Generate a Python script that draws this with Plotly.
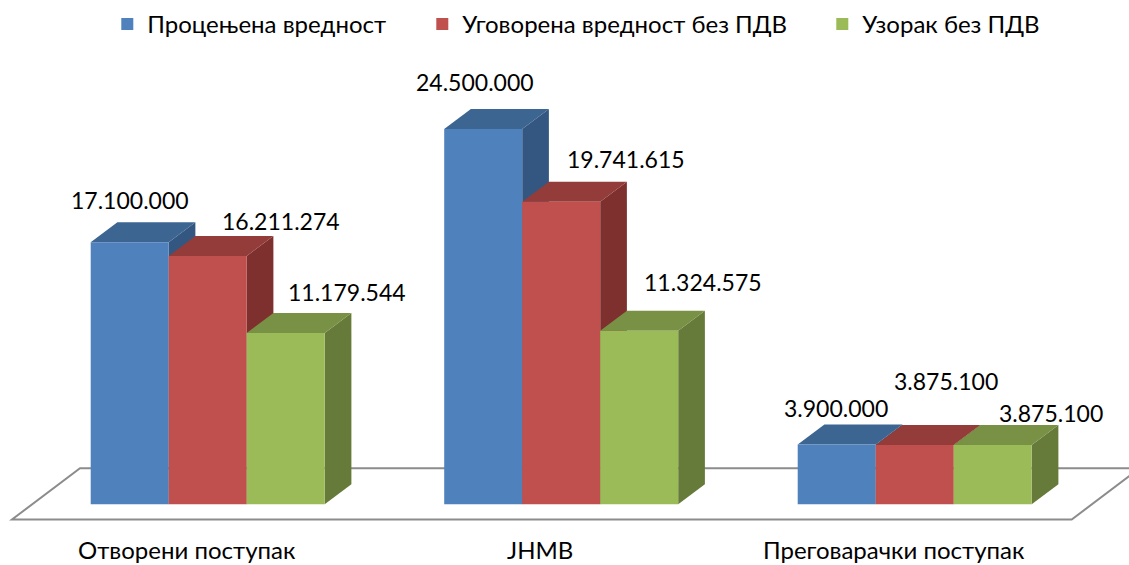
import plotly.graph_objects as go

# ---------------- data ----------------
categories = ["Отворени поступак", "JHMB", "Преговарачки поступак"]
series_names = ["Процењена вредност", "Уговорена вредност без ПДВ", "Узорак без ПДВ"]
procenjena = [17100000, 24500000, 3900000]
ugovorena = [16211274, 19741615, 3875100]
uzorak = [11179544, 11324575, 3875100]
series_values = [procenjena, ugovorena, uzorak]

# ---------------- style ----------------
W, H = 1129, 565
FONT = "Lato"
front_colors = ["#4F81BD", "#C0504D", "#9BBB59"]
top_colors = ["#3D6591", "#933C3A", "#789145"]
side_colors = ["#345781", "#7D302E", "#667B3A"]
floor_color = "#8C8C8C"

# pixel geometry of the plot (used only to set the axis scales)
GROUP_PX0 = 207.7      # pixel x of first category centre
GROUP_STEP = 353.5     # pixels per category
BASE_PX = 504.3        # pixel y of value 0
PX_PER_UNIT = 15.32e-6 # pixels per value unit
BAR_PX = 78.0
DEPTH_X_PX = 26.7
DEPTH_Y_PX = 20.0

x_range = [-GROUP_PX0 / GROUP_STEP, (W - GROUP_PX0) / GROUP_STEP]
y_range = [(BASE_PX - H) / PX_PER_UNIT, BASE_PX / PX_PER_UNIT]
BW = BAR_PX / GROUP_STEP
DX = DEPTH_X_PX / GROUP_STEP
DY = DEPTH_Y_PX / PX_PER_UNIT
offsets = [-BW, 0.0, BW]

# data-label pixel offsets (dx, dy) relative to the front-top centre of each bar
label_offsets = [
    [(0, 42), (-8, 47), (-1, 37)],
    [(73, 35), (65, 43), (31, 64)],
    [(61, 41), (64, 49), (58, 32)],
]
legend_text_x = [147.3, 462.3, 862.3]

fig = go.Figure()
shapes = []

# floor outline (drawn behind the bars)
f_front = (BASE_PX - 519.5) / PX_PER_UNIT
f_back = (BASE_PX - 468.3) / PX_PER_UNIT
fl_x0 = (12 - GROUP_PX0) / GROUP_STEP
fl_x1 = (1071.7 - GROUP_PX0) / GROUP_STEP
fl_dx = 68 / GROUP_STEP
shapes.append(dict(
    type="path", xref="x", yref="y", layer="below",
    path=f"M {fl_x0},{f_front} L {fl_x1},{f_front} L {fl_x1 + fl_dx},{f_back} "
         f"L {fl_x0 + fl_dx},{f_back} Z",
    line=dict(color=floor_color, width=2), fillcolor="rgba(0,0,0,0)"))

annotations = []
for gi in range(len(categories)):
    for si, vals in enumerate(series_values):
        v = vals[gi]
        xc = gi + offsets[si]
        xl, xr = xc - BW / 2, xc + BW / 2
        # right side face
        shapes.append(dict(
            type="path", xref="x", yref="y", layer="below",
            path=f"M {xr},0 L {xr},{v} L {xr + DX},{v + DY} L {xr + DX},{DY} Z",
            fillcolor=side_colors[si], line=dict(width=0)))
        # top face
        shapes.append(dict(
            type="path", xref="x", yref="y", layer="below",
            path=f"M {xl},{v} L {xr},{v} L {xr + DX},{v + DY} L {xl + DX},{v + DY} Z",
            fillcolor=top_colors[si], line=dict(width=0)))
        dxp, dyp = label_offsets[si][gi]
        annotations.append(dict(
            x=xc, y=v, xref="x", yref="y", text=f"{v:,}".replace(",", "."),
            showarrow=False, xanchor="center", yanchor="middle",
            xshift=dxp, yshift=dyp,
            font=dict(family=FONT, size=23, color="#000000")))

# front faces as bars
legend_ids = ["legend", "legend2", "legend3"]
for si, vals in enumerate(series_values):
    fig.add_trace(go.Bar(
        x=[i + offsets[si] for i in range(len(categories))], y=vals, width=BW,
        name=series_names[si], marker=dict(color=front_colors[si], line=dict(width=0)),
        legend=legend_ids[si], hoverinfo="name+y"))

# category labels
for gi, cat in enumerate(categories):
    annotations.append(dict(
        x=gi, y=0, xref="x", yref="paper", text=cat, showarrow=False,
        xanchor="center", yanchor="bottom", xshift=-21, yshift=-1,
        font=dict(family=FONT, size=24, color="#000000")))

legend_common = dict(orientation="h", yanchor="middle", xanchor="left",
                     bgcolor="rgba(0,0,0,0)", borderwidth=0,
                     font=dict(family=FONT, size=24, color="#000000"))
layout_legends = {}
for k, lid in enumerate(legend_ids):
    layout_legends[lid] = dict(legend_common, x=(legend_text_x[k] - 40) / W, y=1 - 24.5 / H)

fig.update_layout(
    width=W, height=H, margin=dict(l=0, r=0, t=0, b=0),
    paper_bgcolor="white", plot_bgcolor="white",
    barmode="overlay", showlegend=True,
    xaxis=dict(range=x_range, visible=False, fixedrange=True),
    yaxis=dict(range=y_range, visible=False, fixedrange=True),
    shapes=shapes, annotations=annotations,
    font=dict(family=FONT, size=22, color="#000000"),
    **layout_legends,
)

fig.write_html("out.html", config={"displayModeBar": False},
               post_script="document.body.style.margin='0px';")
